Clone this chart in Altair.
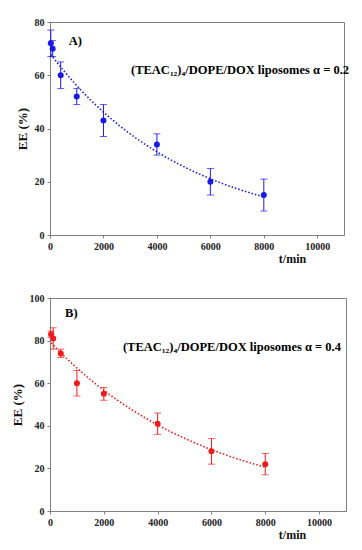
import altair as alt
import pandas as pd

# Panel A data
t_a = [30, 100, 400, 1000, 2000, 4000, 6000, 8000]
ee_a = [72, 70, 60, 52, 43, 34, 20, 15]
err_a = [5, 3, 5, 3, 6, 4, 5, 6]

# Panel B data
t_b = [40, 120, 400, 1000, 2000, 4000, 6000, 8000]
ee_b = [83, 81, 74, 60, 55, 41, 28, 22]
err_b = [1.5, 5, 2, 6, 3, 5, 6, 5]

x_ticks = [0, 2000, 4000, 6000, 8000, 10000]

FONT = "Liberation Serif"


def make_df(t, ee, err):
    return pd.DataFrame({
        "t": t, "EE": ee,
        "lo": [e - d for e, d in zip(ee, err)],
        "hi": [e + d for e, d in zip(ee, err)],
    })


def panel(df, color, ymax, ystep, label, lx, ly, note, nx, ny, width, height):
    x = alt.X("t:Q", scale=alt.Scale(domain=[0, 11000], nice=False),
              axis=alt.Axis(values=x_ticks, title="t/min", grid=False, format="d",
                            titleX=242, titleY=23, titleAlign="center",
                            titleBaseline="middle", tickSize=3, labelPadding=3,
                            labelFlush=False))
    yaxis = alt.Axis(values=list(range(0, ymax + 1, ystep)), title="EE (%)",
                     grid=False, tickSize=3, labelPadding=3, titlePadding=5,
                     titleFontSize=13)
    y = alt.Y("EE:Q", scale=alt.Scale(domain=[0, ymax], nice=False), axis=yaxis)
    base = alt.Chart(df)
    bars = base.mark_errorbar(ticks={"size": 7, "thickness": 1}, rule={"strokeWidth": 1},
                              color=color).encode(
        x=x, y=alt.Y("lo:Q", scale=alt.Scale(domain=[0, ymax], nice=False), axis=yaxis),
        y2="hi:Q")
    pts = base.mark_circle(size=36, opacity=1, color=color).encode(x=x, y=y)
    fit = base.transform_regression("t", "EE", method="exp").mark_line(
        color=color, strokeDash=[1.5, 2], strokeWidth=1.6).encode(x=x, y=y)
    lab = alt.Chart(pd.DataFrame({"t": [lx], "EE": [ly], "s": [label]})).mark_text(
        font=FONT, fontWeight="bold", fontSize=12.5, align="left", color="black").encode(
        x=x, y=y, text="s:N")
    nt = alt.Chart(pd.DataFrame({"t": [nx], "EE": [ny], "s": [note]})).mark_text(
        font=FONT, fontWeight="bold", fontSize=12.5, align="left", color="black").encode(
        x=x, y=y, text="s:N")
    return alt.layer(fit, bars, pts, lab, nt).properties(width=width, height=height)


df_a = make_df(t_a, ee_a, err_a)
df_b = make_df(t_b, ee_b, err_b)

pa = panel(df_a, "#1a1ae6", 80, 20, "A)", 700, 73,
           "(TEAC₁₂)₄/DOPE/DOX liposomes α = 0.2", 3030, 62, 294, 213)
pb = panel(df_b, "#f01c1c", 100, 20, "B)", 560, 93,
           "(TEAC₁₂)₄/DOPE/DOX liposomes α = 0.4", 2710, 77, 296, 213)

chart = alt.vconcat(pa, pb, spacing=27).properties(
    padding={"left": 2, "top": 8, "right": 2, "bottom": 5},
    background="white"
).configure_view(stroke="#808080", strokeWidth=1).configure_axis(
    domainColor="#808080", tickColor="#808080", labelFont=FONT, titleFont=FONT,
    labelFontWeight="bold", titleFontWeight="bold", labelFontSize=10, titleFontSize=12,
    labelColor="#222222", titleColor="#111111"
)

chart.save("out.html", embed_options={"renderer": "svg", "actions": False})
